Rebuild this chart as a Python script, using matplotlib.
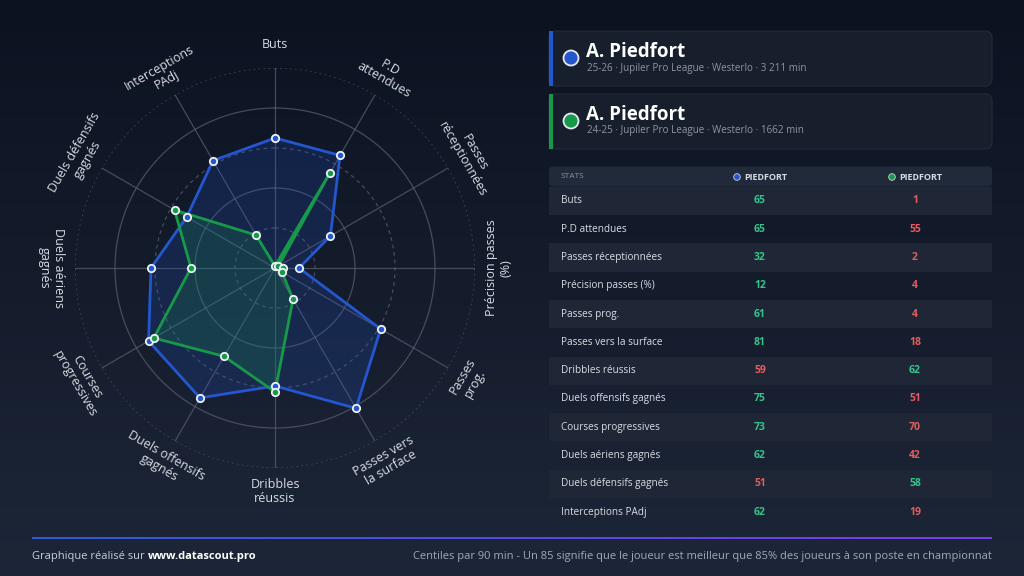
import numpy as np
import matplotlib
matplotlib.use("Agg")
import matplotlib.pyplot as plt
from matplotlib.patches import FancyBboxPatch, Circle, Rectangle

plt.rcParams['font.family'] = ['Open Sans', 'DejaVu Sans']

# data
stats = ["Buts", "P.D attendues", "Passes réceptionnées", "Précision passes (%)",
         "Passes prog.", "Passes vers la surface", "Dribbles réussis",
         "Duels offensifs gagnés", "Courses progressives", "Duels aériens gagnés",
         "Duels défensifs gagnés", "Interceptions PAdj"]
radar_labels = ["Buts", "P.D\nattendues", "Passes\nréceptionnées", "Précision passes\n(%)",
                "Passes\nprog.", "Passes vers\nla surface", "Dribbles\nréussis",
                "Duels offensifs\ngagnés", "Courses\nprogressives", "Duels aériens\ngagnés",
                "Duels défensifs\ngagnés", "Interceptions\nPAdj"]
blue_vals = [65, 65, 32, 12, 61, 81, 59, 75, 73, 62, 51, 62]
green_vals = [1, 55, 2, 4, 4, 18, 62, 51, 70, 42, 58, 19]

player_names = ["A. Piedfort", "A. Piedfort"]
player_info = ["25-26 · Jupiler Pro League · Westerlo · 3 211 min",
               "24-25 · Jupiler Pro League · Westerlo · 1662 min"]
header_names = ["PIEDFORT", "PIEDFORT"]

BLUE = "#2456cf"
GREEN = "#17994a"
GOOD = "#34c48b"
BAD = "#e35d5d"
TXT = "#d8dce3"
SUB = "#8d95a5"

fig = plt.figure(figsize=(10.24, 5.76), dpi=100)

# overlay in pixel coords
ov = fig.add_axes([0, 0, 1, 1])
ov.set_xlim(0, 1024)
ov.set_ylim(576, 0)
ov.axis('off')

top = np.array([12, 18, 32]) / 255
bot = np.array([29, 38, 56]) / 255
t = np.linspace(0, 1, 256)[:, None]
grad = (top[None, :] * (1 - t) + bot[None, :] * t)[:, None, :]
ov.imshow(grad, extent=[0, 1024, 576, 0], aspect='auto', zorder=0)

# player cards
for i in range(2):
    y0 = 31 + i * 63
    col = BLUE if i == 0 else GREEN
    ov.add_patch(FancyBboxPatch((549, y0), 443, 55, boxstyle="round,pad=0,rounding_size=7",
                                fc="#171e2c", ec="#232b3a", lw=0.8, zorder=2))
    ov.add_patch(Rectangle((549, y0), 3.5, 55, fc=col, ec='none', zorder=3))
    ov.add_patch(Circle((571, y0 + 27), 7.5, fc=col, ec="#e6e9ef", lw=1.3, zorder=3))
    ov.text(586, y0 + 21, player_names[i], fontsize=13.5, fontweight='bold', color='white',
            va='center', ha='left', zorder=3)
    ov.text(587, y0 + 37, player_info[i], fontsize=7.1, color=SUB, va='center', ha='left', zorder=3)

# table
col_x = [760, 915]
ov.add_patch(FancyBboxPatch((549, 166.5), 443, 20, boxstyle="round,pad=0,rounding_size=4",
                            fc="#212a3b", ec='none', zorder=2))
ov.text(561, 176.5, "STATS", fontsize=6, color="#8a92a3", va='center', ha='left', zorder=3)
for j, c in enumerate([BLUE, GREEN]):
    ov.add_patch(Circle((col_x[j] - 23, 177), 3.3, fc=c, ec="#cfd4dc", lw=0.6, zorder=3))
    ov.text(col_x[j] - 16, 177, header_names[j], fontsize=6.5, fontweight='bold',
            color="#d6dae2", va='center', ha='left', zorder=3)

row_h = 28.3
for i, name in enumerate(stats):
    ry = 186.7 + i * row_h
    if i % 2 == 0:
        ov.add_patch(Rectangle((549, ry), 443, row_h, fc="#1f2737", ec='none', zorder=1.5))
    yc = ry + row_h / 2
    ov.text(561, yc, name, fontsize=7.2, color=TXT, va='center', ha='left', zorder=3)
    b, g = blue_vals[i], green_vals[i]
    ov.text(col_x[0], yc, str(b), fontsize=7.5, fontweight='bold',
            color=GOOD if b >= g else BAD, va='center', ha='center', zorder=3)
    ov.text(col_x[1], yc, str(g), fontsize=7.5, fontweight='bold',
            color=GOOD if g > b else BAD, va='center', ha='center', zorder=3)

# footer
fg = np.array([[45, 91, 214], [124, 58, 237]]) / 255
s = np.linspace(0, 1, 256)[:, None]
fgrad = (fg[0] * (1 - s) + fg[1] * s)[None, :, :]
ov.imshow(fgrad, extent=[32, 992, 539.3, 537.3], aspect='auto', zorder=2)
t1 = ov.text(32, 556, "Graphique réalisé sur ", fontsize=8, color="#c9ced6",
             va='center', ha='left', zorder=3)
fig.canvas.draw()
bb = t1.get_window_extent(fig.canvas.get_renderer())
x_end = ov.transData.inverted().transform((bb.x1, bb.y0))[0]
ov.text(x_end, 556, "www.datascout.pro", fontsize=8, fontweight='bold', color='white',
        va='center', ha='left', zorder=3)
ov.text(992, 556, "Centiles par 90 min - Un 85 signifie que le joueur est meilleur que 85% "
        "des joueurs à son poste en championnat", fontsize=8, color="#a2a8b4",
        va='center', ha='right', zorder=3)

# radar
ax = fig.add_axes([75 / 1024, 108 / 576, 400 / 1024, 400 / 576], projection='polar')
ax.set_facecolor('none')
ax.set_theta_zero_location('N')
ax.set_theta_direction(-1)
ax.set_ylim(0, 100)
ax.grid(False)
ax.spines['polar'].set_visible(False)
ax.set_xticks([])
ax.set_yticks([])

n = len(stats)
angles = np.arange(n) * 2 * np.pi / n
circ = np.linspace(0, 2 * np.pi, 361)
ring_styles = {20: (0, (3, 3)), 40: '-', 60: (0, (3, 3)), 80: '-', 100: (0, (1.5, 2.5))}
for r, ls in ring_styles.items():
    ax.plot(circ, np.full_like(circ, r), color="#5a6272", lw=0.9, ls=ls, alpha=0.7, zorder=1)
for a in angles:
    ax.plot([a, a], [0, 100], color="#5a6272", lw=0.9, alpha=0.7, zorder=1)

for vals, col in [(blue_vals, BLUE), (green_vals, GREEN)]:
    aa = np.append(angles, angles[0])
    vv = np.append(vals, vals[0])
    ax.fill(aa, vv, color=col, alpha=0.2, lw=0, zorder=2)
    ax.plot(aa, vv, color=col, lw=2, zorder=3)
    ax.scatter(angles, vals, s=28, color=col, edgecolors='#eef1f6', linewidths=1.3, zorder=4)

for a, lab in zip(angles, radar_labels):
    deg = np.degrees(a)
    if deg < 90:
        rot = -deg
    elif deg <= 270:
        rot = 180 - deg
    else:
        rot = 360 - deg
    ax.text(a, 112, lab, fontsize=9, color=TXT, rotation=rot, rotation_mode='anchor',
            ha='center', va='center', linespacing=1.1)

fig.savefig("out.png", dpi=100)
